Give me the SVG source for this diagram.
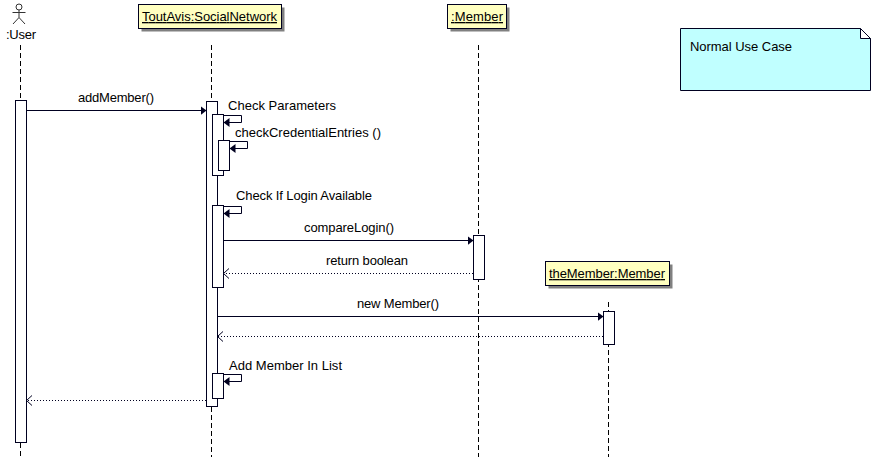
<svg xmlns="http://www.w3.org/2000/svg" width="883" height="458" viewBox="0 0 883 458">
<style>
text{font-family:"Liberation Sans",Arial,sans-serif;font-size:13px;fill:#000}
.u{text-decoration:underline}
.box{fill:#ffffc0;stroke:#000020;stroke-width:1}
.sh{fill:#808080;stroke:none}
.act{fill:#fff;stroke:#000020;stroke-width:1}
.life{fill:none;stroke:#000;stroke-width:1;stroke-dasharray:5 3}
.line{fill:none;stroke:#000020;stroke-width:1}
.ret{fill:none;stroke:#000020;stroke-width:1;stroke-dasharray:1 2}
.open{fill:none;stroke:#000020;stroke-width:1}
</style>
<defs>
<marker id="f" markerUnits="userSpaceOnUse" markerWidth="8" markerHeight="10" refX="5.500" refY="5" orient="auto"><path d="M0 0.500L6 5L0 9.500Z" fill="#000020"/></marker>
</defs>
<rect width="883" height="458" fill="#fff"/>
<g id="lifelines">
<path class="life" d="M20.5 45V100"/><path class="life" d="M20.5 443V457"/>
<path class="life" d="M211.5 45V101"/><path class="life" d="M211.5 407V457"/>
<path class="life" d="M478.5 45V457"/>
<path class="life" d="M608.5 302V457"/>
</g>
<g id="user">
<circle cx="19" cy="7" r="3" fill="#fff" stroke="#333"/>
<path d="M19 10V17.500M12.500 12.500H25.500M19 17.500L13 24M19 17.500L25 24" fill="none" stroke="#333"/>
<text x="6" y="39" textLength="30">:User</text>
<rect class="act" x="15.500" y="100.500" width="11" height="342"/>
</g>
<g id="socialnetwork">
<rect class="sh" x="141.500" y="7.500" width="143" height="24"/>
<rect class="box" x="138.500" y="4.500" width="143" height="24"/>
<text x="142" y="21" class="u" textLength="135">ToutAvis:SocialNetwork</text>
<rect class="act" x="206.500" y="101.500" width="11" height="305"/>
<rect class="act" x="212.500" y="114.500" width="11" height="61"/>
<rect class="act" x="218.500" y="140.500" width="11" height="30"/>
<rect class="act" x="212.500" y="205.500" width="11" height="82"/>
<rect class="act" x="212.500" y="373.500" width="11" height="25"/>
</g>
<g id="member">
<rect class="sh" x="450.500" y="7.500" width="59" height="24"/>
<rect class="box" x="447.500" y="4.500" width="59" height="24"/>
<text x="451" y="21" class="u" textLength="52">:Member</text>
<rect class="act" x="473.500" y="235.500" width="11" height="44"/>
</g>
<g id="themember">
<rect class="sh" x="548.500" y="264.500" width="124" height="24"/>
<rect class="box" x="545.500" y="261.500" width="124" height="24"/>
<text x="549" y="278" class="u" textLength="116">theMember:Member</text>
<rect class="act" x="603.500" y="311.500" width="11" height="33"/>
</g>
<g id="note">
<path d="M680.500 28.500H860.500L870.500 38.500V90.500H680.500Z" fill="#c0ffff" stroke="#000020"/>
<path d="M860.500 28.500V38.500H870.500Z" fill="#fff" stroke="#000020"/>
<text x="690" y="51" textLength="102">Normal Use Case</text>
</g>
<g id="connectors">
<path class="line" marker-end="url(#f)" d="M26.500 110.500H206"/>
<path class="line" marker-end="url(#f)" d="M223.500 115.500H241.500V122.500H224"/>
<path class="line" marker-end="url(#f)" d="M229.500 141.500H247.500V148.500H230"/>
<path class="line" marker-end="url(#f)" d="M223.500 206.500H241.500V213.500H224"/>
<path class="line" marker-end="url(#f)" d="M223.500 240.500H473"/>
<path class="ret" d="M473 273.500H224"/>
<path class="open" d="M229 268.500L223.500 273.500L229 278.500"/>
<path class="line" marker-end="url(#f)" d="M217.500 316.500H603"/>
<path class="ret" d="M603 336.500H218"/>
<path class="open" d="M223 331.500L217.500 336.500L223 341.500"/>
<path class="line" marker-end="url(#f)" d="M223.500 374.500H241.500V381.500H224"/>
<path class="ret" d="M206 400.500H27"/>
<path class="open" d="M32 395.500L26.500 400.500L32 405.500"/>
</g>
<g id="labels">
<text x="78" y="102" textLength="76">addMember()</text>
<text x="228" y="110" textLength="108">Check Parameters</text>
<text x="235" y="137" textLength="146">checkCredentialEntries ()</text>
<text x="236" y="200" textLength="136">Check If Login Available</text>
<text x="304" y="232" textLength="90">compareLogin()</text>
<text x="326" y="265" textLength="82">return boolean</text>
<text x="357" y="308" textLength="82">new Member()</text>
<text x="229" y="370" textLength="113">Add Member In List</text>
</g>
</svg>
